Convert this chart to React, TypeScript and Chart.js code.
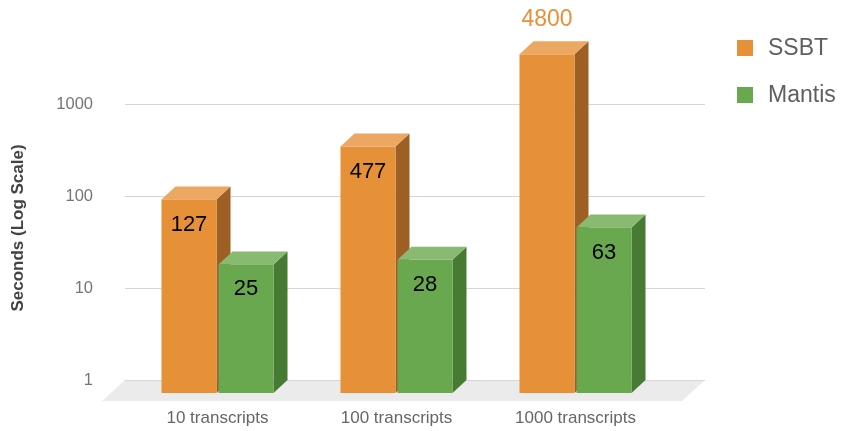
import { useEffect, useRef } from 'react';
import { Chart, registerables } from 'chart.js';

Chart.register(...registerables);

const categories = ['10 transcripts', '100 transcripts', '1000 transcripts'];
const seriesNames = ['SSBT', 'Mantis'];
const ssbtValues = [127, 477, 4800];
const mantisValues = [25, 28, 63];
const yTickValues = [1, 10, 100, 1000];
const yAxisTitle = 'Seconds (Log Scale)';

const FONT = '"Liberation Sans", Arial, sans-serif';
const palettes = [
  { front: '#e69138', top: '#eca862', side: '#9e5f24', label: '#e69138' },
  { front: '#6aa84f', top: '#88ba71', side: '#477a32', label: '#6aa84f' },
];

const DX = 14;
const DY = 13;

const bars3d = {
  id: 'bars3d',
  beforeDatasetsDraw(chart: any) {
    const { ctx, chartArea, scales } = chart;
    const y = scales.y;
    const left = chartArea.left - 3;
    const right = chartArea.right + 40;
    const base = y.getPixelForValue(yTickValues[0]);
    ctx.save();
    // floor
    ctx.fillStyle = '#ebebeb';
    ctx.beginPath();
    ctx.moveTo(left, base);
    ctx.lineTo(right, base);
    ctx.lineTo(right - 23, base + 21);
    ctx.lineTo(left - 23, base + 21);
    ctx.closePath();
    ctx.fill();
    // grid lines on back plane
    ctx.strokeStyle = '#d6d6d6';
    ctx.lineWidth = 1;
    for (const v of yTickValues) {
      const py = Math.round(y.getPixelForValue(v)) + 0.5;
      ctx.beginPath();
      ctx.moveTo(left, py);
      ctx.lineTo(right, py);
      ctx.stroke();
    }
    ctx.restore();
  },
  beforeDatasetDraw() {
    return false;
  },
  afterDatasetsDraw(chart: any) {
    const { ctx, chartArea } = chart;
    const metas = chart.data.datasets.map((_: any, i: number) => chart.getDatasetMeta(i));
    ctx.save();
    const labels: any[] = [];
    for (let i = 0; i < categories.length; i++) {
      metas.forEach((meta: any, d: number) => {
        const el = meta.data[i];
        const p = palettes[d];
        const xl = el.x - el.width / 2;
        const xr = el.x + el.width / 2;
        const top = el.y;
        const base = el.base;
        // side face
        ctx.fillStyle = p.side;
        ctx.beginPath();
        ctx.moveTo(xr, top + DY);
        ctx.lineTo(xr + DX, top);
        ctx.lineTo(xr + DX, base);
        ctx.lineTo(xr, base + DY);
        ctx.closePath();
        ctx.fill();
        // top face
        ctx.fillStyle = p.top;
        ctx.beginPath();
        ctx.moveTo(xl, top + DY);
        ctx.lineTo(xl + DX, top);
        ctx.lineTo(xr + DX, top);
        ctx.lineTo(xr, top + DY);
        ctx.closePath();
        ctx.fill();
        // front face
        ctx.fillStyle = p.front;
        ctx.fillRect(xl, top + DY, el.width, base - top);
        const value = chart.data.datasets[d].data[i];
        const outside = top - chartArea.top < 50;
        labels.push({
          text: String(value),
          x: el.x,
          y: outside ? top - 22 : top + DY + 25,
          color: outside ? p.label : '#000000',
          size: outside ? 23 : 22,
        });
      });
    }
    ctx.textAlign = 'center';
    ctx.textBaseline = 'middle';
    for (const l of labels) {
      ctx.font = `${l.size}px ${FONT}`;
      ctx.fillStyle = l.color;
      ctx.fillText(l.text, l.x, l.y);
    }
    ctx.restore();
  },
  afterDraw(chart: any) {
    const { ctx } = chart;
    ctx.save();
    // y-axis title
    ctx.translate(18, 228);
    ctx.rotate(-Math.PI / 2);
    ctx.font = `bold 17px ${FONT}`;
    ctx.fillStyle = '#434343';
    ctx.textAlign = 'center';
    ctx.textBaseline = 'middle';
    ctx.fillText(yAxisTitle, 0, 0);
    ctx.restore();
    // legend
    ctx.save();
    ctx.font = `23px ${FONT}`;
    ctx.textAlign = 'left';
    ctx.textBaseline = 'middle';
    seriesNames.forEach((name, i) => {
      const cy = 48 + i * 47;
      ctx.fillStyle = palettes[i].front;
      ctx.fillRect(737, cy - 8, 16, 16);
      ctx.fillStyle = '#5f5f5f';
      ctx.fillText(name, 768, cy + 1);
    });
    ctx.restore();
  },
};

export default function App() {
  const ref = useRef<HTMLCanvasElement | null>(null);
  useEffect(() => {
    document.body.style.margin = '0';
    document.body.style.overflow = 'hidden';
    const canvas = ref.current;
    if (!canvas) return;
    const chart = new Chart(canvas, {
      type: 'bar',
      data: {
        labels: categories,
        datasets: [
          { label: seriesNames[0], data: ssbtValues, backgroundColor: palettes[0].front },
          { label: seriesNames[1], data: mantisValues, backgroundColor: palettes[1].front },
        ],
      },
      options: {
        animation: false,
        responsive: false,
        devicePixelRatio: 1,
        layout: { padding: { left: 0, right: 184, top: 12, bottom: 0 } },
        plugins: { legend: { display: false }, tooltip: { enabled: false } },
        datasets: { bar: { categoryPercentage: 0.637, barPercentage: 0.965 } },
        scales: {
          x: {
            grid: { display: false, drawTicks: false },
            border: { display: false },
            ticks: {
              padding: 28,
              color: '#666666',
              font: { family: FONT, size: 17 },
              maxRotation: 0,
            },
            afterFit: (s: any) => {
              s.height = 51;
              s.paddingLeft = 0;
              s.paddingRight = 0;
            },
          },
          y: {
            type: 'logarithmic',
            min: 1,
            max: 10000,
            grid: { display: false, drawTicks: false },
            border: { display: false },
            ticks: {
              padding: 35,
              color: '#757575',
              font: { family: FONT, size: 16.5 },
              callback: (v: any) => String(v),
            },
            afterBuildTicks: (s: any) => {
              s.ticks = yTickValues.map((v) => ({ value: v }));
            },
            afterFit: (s: any) => {
              s.width = 128;
              s.paddingTop = 0;
              s.paddingBottom = 0;
            },
          },
        },
      },
      plugins: [bars3d],
    });
    return () => chart.destroy();
  }, []);
  return <canvas ref={ref} width={849} height={431} style={{ display: 'block' }} />;
}
